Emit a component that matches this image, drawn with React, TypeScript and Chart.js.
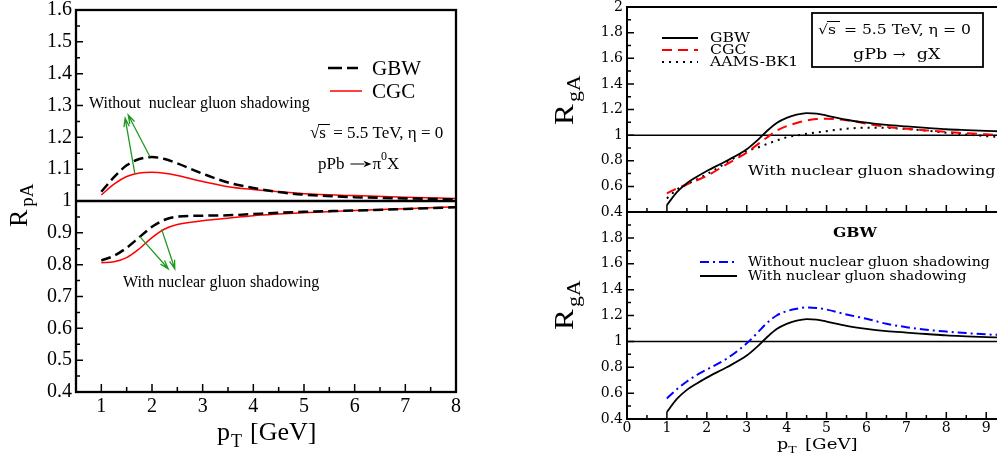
import { useEffect, useRef } from "react";
import { Chart, registerables } from "chart.js";
Chart.register(...registerables);

// ---------------- Left panel: R_pA for pPb -> pi0 X ----------------
const pAx = [1, 1.25, 1.5, 1.75, 2, 2.25, 2.5, 3, 3.5, 4, 4.5, 5, 6, 7, 8];
const pAGBWNoShadow = [1.029, 1.075, 1.112, 1.132, 1.138, 1.132, 1.118, 1.086, 1.058, 1.041, 1.028, 1.020, 1.012, 1.008, 1.005];
const pACGCNoShadow = [1.019, 1.053, 1.077, 1.088, 1.090, 1.087, 1.080, 1.061, 1.045, 1.036, 1.029, 1.023, 1.017, 1.012, 1.008];
const pAGBWShadow = [0.813, 0.828, 0.853, 0.886, 0.919, 0.941, 0.951, 0.954, 0.955, 0.959, 0.963, 0.966, 0.970, 0.975, 0.980];
const pACGCShadow = [0.806, 0.809, 0.822, 0.850, 0.885, 0.912, 0.926, 0.938, 0.946, 0.954, 0.959, 0.963, 0.970, 0.976, 0.982];

const leftXTicks = [1, 2, 3, 4, 5, 6, 7, 8];
const leftYTicks = [0.4, 0.5, 0.6, 0.7, 0.8, 0.9, 1, 1.1, 1.2, 1.3, 1.4, 1.5, 1.6];

// green arrows (tail -> head), data coordinates
const arrowTailX = [1.66, 1.96, 1.76, 2.19];
const arrowTailY = [1.087, 1.139, 0.888, 0.911];
const arrowHeadX = [1.47, 1.53, 2.32, 2.45];
const arrowHeadY = [1.26, 1.27, 0.787, 0.787];

// ---------------- Right panels: R_gA for gPb -> gX ----------------
const gAx = [1, 1.25, 1.5, 1.75, 2, 2.5, 3, 3.25, 3.5, 3.75, 4, 4.25, 4.5, 4.75, 5, 5.5, 6, 6.5, 7, 7.5, 8, 8.5, 9, 9.3];
const gAGBW = [0.454, 0.555, 0.625, 0.675, 0.720, 0.800, 0.890, 0.955, 1.030, 1.095, 1.135, 1.160, 1.172, 1.168, 1.153, 1.120, 1.097, 1.080, 1.068, 1.057, 1.046, 1.039, 1.033, 1.030];
const gACGC = [0.545, 0.585, 0.615, 0.648, 0.682, 0.773, 0.864, 0.922, 0.980, 1.035, 1.070, 1.095, 1.115, 1.125, 1.128, 1.117, 1.090, 1.065, 1.050, 1.037, 1.025, 1.015, 1.006, 1.002];
const gAAAMS = [0.506, 0.575, 0.615, 0.655, 0.695, 0.786, 0.876, 0.900, 0.930, 0.958, 0.983, 0.997, 1.010, 1.021, 1.031, 1.050, 1.058, 1.057, 1.047, 1.035, 1.019, 1.005, 0.992, 0.986];
const gAGBWNoShadow = [0.559, 0.630, 0.690, 0.740, 0.782, 0.867, 0.985, 1.060, 1.140, 1.200, 1.233, 1.252, 1.262, 1.258, 1.246, 1.208, 1.175, 1.136, 1.110, 1.090, 1.076, 1.064, 1.054, 1.050];

const rightXTicks = [0, 1, 2, 3, 4, 5, 6, 7, 8, 9];
const rightTopYTicks = [0.4, 0.6, 0.8, 1, 1.2, 1.4, 1.6, 1.8, 2];
const rightBotYTicks = [0.4, 0.6, 0.8, 1, 1.2, 1.4, 1.6, 1.8];

// ---------------- helpers ----------------
const LF = (s: number, w = "") => `${w}${s}px 'Liberation Serif', 'Times New Roman', serif`;
const RF = (s: number, w = "") => `${w}${s}px 'DejaVu Serif', serif`;
const fmt = (v: number) => String(Number(Number(v).toFixed(2)));
const GREEN = "#1f9a1f";

function series(xs: number[], ys: number[], color: string, width: number, dash: number[] = []) {
  return {
    data: xs.map((x, i) => ({ x, y: ys[i] })),
    borderColor: color,
    borderWidth: width,
    borderDash: dash,
    pointRadius: 0,
    fill: false,
    cubicInterpolationMode: "monotone",
  };
}

function axis(min: number, max: number, ticksArr: number[], font: any, pad: number, size: number, horizontal: boolean, show = true) {
  return {
    type: "linear",
    min,
    max,
    grid: { display: false, drawTicks: false },
    border: { display: false },
    ticks: {
      display: show,
      font,
      color: "#000",
      padding: pad,
      autoSkip: false,
      maxRotation: 0,
      callback: (v: any) => fmt(v),
    },
    afterBuildTicks: (s: any) => {
      s.ticks = ticksArr.map((v) => ({ value: v }));
    },
    afterFit: (s: any) => {
      if (horizontal) s.height = size;
      else s.width = size;
      s.paddingTop = 0;
      s.paddingBottom = 0;
      s.paddingLeft = 0;
      s.paddingRight = 0;
    },
  };
}

function txt(ctx: any, s: string, x: number, y: number, font: string, o: any = {}) {
  ctx.save();
  ctx.font = font;
  ctx.fillStyle = o.color || "#000";
  ctx.textAlign = o.align || "left";
  ctx.textBaseline = o.base || "alphabetic";
  ctx.translate(x, y);
  const sx = o.sx || 1;
  ctx.scale(sx, 1);
  ctx.fillText(s, 0, 0);
  const w = ctx.measureText(s).width * sx;
  ctx.restore();
  return w;
}

function rotTitle(ctx: any, x: number, y: number, main: string, sub: string, mf: string, sf: string, gap: number, dy: number, sx = 1) {
  ctx.save();
  ctx.translate(x, y);
  ctx.rotate(-Math.PI / 2);
  ctx.scale(sx, 1);
  ctx.fillStyle = "#000";
  ctx.textBaseline = "alphabetic";
  ctx.textAlign = "left";
  ctx.font = mf;
  ctx.fillText(main, 0, 0);
  const w = ctx.measureText(main).width;
  ctx.font = sf;
  ctx.fillText(sub, w + gap, dy);
  ctx.restore();
}

function hline(ctx: any, x0: number, x1: number, y: number, color: string, lw: number, dash: number[] = []) {
  ctx.save();
  ctx.strokeStyle = color;
  ctx.lineWidth = lw;
  ctx.setLineDash(dash);
  ctx.beginPath();
  ctx.moveTo(x0, y);
  ctx.lineTo(x1, y);
  ctx.stroke();
  ctx.restore();
}

function textArrow(ctx: any, x0: number, x1: number, y: number, head: number) {
  ctx.save();
  ctx.strokeStyle = "#000";
  ctx.fillStyle = "#000";
  ctx.lineWidth = 1;
  ctx.beginPath();
  ctx.moveTo(x0, y);
  ctx.lineTo(x1 - head + 1, y);
  ctx.stroke();
  ctx.beginPath();
  ctx.moveTo(x1, y);
  ctx.lineTo(x1 - head, y - head * 0.4);
  ctx.lineTo(x1 - head * 0.7, y);
  ctx.lineTo(x1 - head, y + head * 0.4);
  ctx.closePath();
  ctx.fill();
  ctx.restore();
}

function drawTicks(chart: any, xMaj: number, xMin: number, yMaj: number, yMin: number, lw: number) {
  const ctx = chart.ctx;
  const a = chart.chartArea;
  const xs = chart.scales.x;
  const ys = chart.scales.y;
  ctx.save();
  ctx.strokeStyle = "#000";
  ctx.lineWidth = lw;
  ctx.beginPath();
  const xv = xs.ticks.map((t: any) => t.value);
  const xstep = xv[1] - xv[0];
  for (const v of xv) {
    const p = xs.getPixelForValue(v);
    if (p > a.left + 1 && p < a.right - 1) {
      ctx.moveTo(p, a.bottom);
      ctx.lineTo(p, a.bottom - xMaj);
    }
  }
  for (let v = xv[0] - xstep / 2; v < xs.max; v += xstep) {
    if (v <= xs.min + 1e-6) continue;
    const p = xs.getPixelForValue(v);
    ctx.moveTo(p, a.bottom);
    ctx.lineTo(p, a.bottom - xMin);
  }
  const yv = ys.ticks.map((t: any) => t.value);
  const ystep = yv[1] - yv[0];
  for (const v of yv) {
    const p = ys.getPixelForValue(v);
    if (p > a.top + 1 && p < a.bottom - 1) {
      ctx.moveTo(a.left, p);
      ctx.lineTo(a.left + yMaj, p);
    }
  }
  for (let v = yv[0] + ystep / 2; v < ys.max; v += ystep) {
    const p = ys.getPixelForValue(v);
    ctx.moveTo(a.left, p);
    ctx.lineTo(a.left + yMin, p);
  }
  ctx.stroke();
  ctx.restore();
}

function drawArrow(ctx: any, x0: number, y0: number, x1: number, y1: number) {
  const ang = Math.atan2(y1 - y0, x1 - x0);
  const hl = 9;
  const ha = 0.3;
  ctx.save();
  ctx.strokeStyle = GREEN;
  ctx.lineWidth = 1.3;
  ctx.beginPath();
  ctx.moveTo(x0, y0);
  ctx.lineTo(x1, y1);
  ctx.moveTo(x1 - hl * Math.cos(ang - ha), y1 - hl * Math.sin(ang - ha));
  ctx.lineTo(x1, y1);
  ctx.lineTo(x1 - hl * Math.cos(ang + ha), y1 - hl * Math.sin(ang + ha));
  ctx.stroke();
  ctx.restore();
}

function refLine(chart: any, lw: number) {
  const a = chart.chartArea;
  const p = chart.scales.y.getPixelForValue(1);
  hline(chart.ctx, a.left, a.right, p, "#000", lw);
}

// ---------------- charts ----------------
function makeLeft(canvas: HTMLCanvasElement) {
  const tickFont = { family: "'Liberation Serif', 'Times New Roman', serif", size: 20, lineHeight: 1 };
  return new Chart(canvas, {
    type: "line",
    data: {
      datasets: [
        series(pAx, pAGBWNoShadow, "#000", 2.5, [10, 5]),
        series(pAx, pACGCNoShadow, "#ff0000", 1.5),
        series(pAx, pAGBWShadow, "#000", 2.5, [10, 5]),
        series(pAx, pACGCShadow, "#ff0000", 1.5),
      ] as any,
    },
    options: {
      animation: false,
      responsive: false,
      layout: { padding: { left: 0, top: 10, right: 14, bottom: 0 } },
      plugins: { legend: { display: false }, tooltip: { enabled: false } },
      scales: {
        x: axis(0.5, 8, leftXTicks, tickFont, 5, 65, true),
        y: axis(0.4, 1.6, leftYTicks, tickFont, 4, 76, false),
      } as any,
    },
    plugins: [
      {
        id: "leftDeco",
        beforeDatasetsDraw(chart: any) {
          refLine(chart, 2.5);
        },
        afterDatasetsDraw(chart: any) {
          const xs = chart.scales.x;
          const ys = chart.scales.y;
          for (let i = 0; i < arrowTailX.length; i++) {
            drawArrow(
              chart.ctx,
              xs.getPixelForValue(arrowTailX[i]),
              ys.getPixelForValue(arrowTailY[i]),
              xs.getPixelForValue(arrowHeadX[i]),
              ys.getPixelForValue(arrowHeadY[i])
            );
          }
        },
        afterDraw(chart: any) {
          const ctx = chart.ctx;
          const a = chart.chartArea;
          ctx.save();
          ctx.strokeStyle = "#000";
          ctx.lineWidth = 2.3;
          ctx.strokeRect(a.left, a.top, a.right - a.left, a.bottom - a.top);
          ctx.restore();
          drawTicks(chart, 8, 5, 7, 4, 1.5);
          // legend
          hline(ctx, 328, 358, 68, "#000", 2.5, [14, 5]);
          txt(ctx, "GBW", 372, 69, LF(21), { base: "middle" });
          hline(ctx, 330, 362, 91, "#ff0000", 1.5);
          txt(ctx, "CGC", 372, 92, LF(21), { base: "middle" });
          // annotations
          txt(ctx, "Without  nuclear gluon shadowing", 89, 104, LF(16), { base: "middle" });
          txt(ctx, "With nuclear gluon shadowing", 123, 283, LF(16), { base: "middle" });
          // sqrt(s) label
          let x = 310;
          const by = 138;
          const w1 = txt(ctx, "\u221A", x, by, LF(17));
          const ws = txt(ctx, "s", x + w1, by, LF(17));
          hline(ctx, x + w1 - 1, x + w1 + ws + 4, by - 13.5, "#000", 1);
          txt(ctx, " = 5.5 TeV, \u03B7 = 0", x + w1 + ws + 3, by, LF(17));
          // process label
          x = 318;
          const py = 169;
          x += txt(ctx, "pPb", x, py, LF(17));
          textArrow(ctx, x + 6, x + 27, py - 5, 8);
          x += 28;
          x += txt(ctx, "\u03C0", x, py, LF(17));
          x += txt(ctx, "0", x, py - 9, LF(12));
          txt(ctx, "X", x, py, LF(17));
          // axis titles
          rotTitle(ctx, 27, 227, "R", "pA", LF(26), LF(19), 3, 6);
          const tx = 217;
          const tb = 440;
          const wp = txt(ctx, "p", tx, tb, LF(26));
          txt(ctx, "T", tx + wp + 1, tb + 7, LF(18));
          txt(ctx, "[GeV]", 250, tb, LF(26));
        },
      },
    ],
  } as any);
}

const RS = 1.25;

function makeRightTop(canvas: HTMLCanvasElement) {
  const tickFont = { family: "'DejaVu Serif', serif", size: 14, lineHeight: 1 };
  return new Chart(canvas, {
    type: "line",
    data: {
      datasets: [
        series(gAx, gAGBW, "#000", 1.8),
        series(gAx, gACGC, "#ff0000", 2, [10, 6]),
        series(gAx, gAAAMS, "#000", 2, [2, 5]),
      ] as any,
    },
    options: {
      animation: false,
      responsive: false,
      layout: { padding: { left: 0, top: 7, right: 0, bottom: 0 } },
      plugins: { legend: { display: false }, tooltip: { enabled: false } },
      scales: {
        x: axis(0, 9.27, rightXTicks, tickFont, 2, 18, true, false),
        y: axis(0.4, 2, rightTopYTicks, tickFont, 4, 107, false),
      } as any,
    },
    plugins: [
      {
        id: "rtDeco",
        beforeDatasetsDraw(chart: any) {
          refLine(chart, 1.5);
        },
        afterDraw(chart: any) {
          const ctx = chart.ctx;
          const a = chart.chartArea;
          ctx.save();
          ctx.strokeStyle = "#000";
          ctx.lineWidth = 2;
          ctx.beginPath();
          ctx.moveTo(a.right + 2, a.top);
          ctx.lineTo(a.left, a.top);
          ctx.lineTo(a.left, a.bottom);
          ctx.lineTo(a.right + 2, a.bottom);
          ctx.stroke();
          ctx.restore();
          drawTicks(chart, 7, 4, 7, 4, 1.5);
          // legend
          hline(ctx, 142, 178, 38, "#000", 1.8);
          txt(ctx, "GBW", 190, 39, RF(12.5), { base: "middle", sx: RS });
          hline(ctx, 142, 178, 50, "#ff0000", 2, [10, 6]);
          txt(ctx, "CGC", 190, 51, RF(12.5), { base: "middle", sx: RS });
          hline(ctx, 142, 178, 62, "#000", 2, [2, 5]);
          txt(ctx, "AAMS-BK1", 190, 63, RF(12.5), { base: "middle", sx: RS });
          // box
          ctx.save();
          ctx.strokeStyle = "#000";
          ctx.lineWidth = 1.8;
          ctx.strokeRect(292, 13, 171, 54);
          ctx.restore();
          let x = 298;
          const by = 34;
          const w1 = txt(ctx, "\u221A", x, by, RF(13), { sx: 1.2 });
          const ws = txt(ctx, "s", x + w1, by, RF(13), { sx: 1.2 });
          hline(ctx, x + w1 - 1, x + w1 + ws + 4, by - 12.5, "#000", 1);
          txt(ctx, " = 5.5 TeV, \u03B7 = 0", x + w1 + ws + 3, by, RF(13), { sx: 1.2 });
          x = 333;
          x += txt(ctx, "gPb ", x, 59, RF(14), { sx: RS });
          x += txt(ctx, "\u2192", x, 59, RF(14), { sx: 1.1 });
          txt(ctx, "  gX", x, 59, RF(14), { sx: RS });
          txt(ctx, "With nuclear gluon shadowing", 228, 172, RF(12.8), { base: "middle", sx: RS });
          rotTitle(ctx, 53, 125, "R", "gA", LF(27), LF(19), 2, 7, 1.15);
        },
      },
    ],
  } as any);
}

function makeRightBottom(canvas: HTMLCanvasElement) {
  const tickFont = { family: "'DejaVu Serif', serif", size: 14, lineHeight: 1 };
  return new Chart(canvas, {
    type: "line",
    data: {
      datasets: [
        series(gAx, gAGBWNoShadow, "#0000ff", 2, [9, 4, 2, 4]),
        series(gAx, gAGBW, "#000", 1.8),
      ] as any,
    },
    options: {
      animation: false,
      responsive: false,
      layout: { padding: { left: 0, top: 12, right: 0, bottom: 0 } },
      plugins: { legend: { display: false }, tooltip: { enabled: false } },
      scales: {
        x: axis(0, 9.27, rightXTicks, tickFont, 2, 38, true),
        y: axis(0.4, 2, rightBotYTicks, tickFont, 4, 107, false),
      } as any,
    },
    plugins: [
      {
        id: "rbDeco",
        beforeDatasetsDraw(chart: any) {
          refLine(chart, 1.5);
        },
        afterDraw(chart: any) {
          const ctx = chart.ctx;
          const a = chart.chartArea;
          ctx.save();
          ctx.strokeStyle = "#000";
          ctx.lineWidth = 2;
          ctx.beginPath();
          ctx.moveTo(a.right + 2, a.top);
          ctx.lineTo(a.left, a.top);
          ctx.lineTo(a.left, a.bottom);
          ctx.lineTo(a.right + 2, a.bottom);
          ctx.stroke();
          ctx.restore();
          drawTicks(chart, 7, 4, 7, 4, 1.5);
          txt(ctx, "GBW", 313, 34, RF(13, "bold "), { base: "middle", sx: 1.2 });
          hline(ctx, 180, 217, 62, "#0000ff", 2, [9, 4, 2, 4]);
          txt(ctx, "Without nuclear gluon shadowing", 228, 63, RF(12.5), { base: "middle", sx: 1.13 });
          hline(ctx, 180, 217, 76, "#000", 1.8);
          txt(ctx, "With nuclear gluon shadowing", 228, 77, RF(12.5), { base: "middle", sx: 1.13 });
          rotTitle(ctx, 53, 130, "R", "gA", LF(27), LF(19), 2, 7, 1.15);
          const wp = txt(ctx, "p", 257, 249, RF(14), { sx: RS });
          txt(ctx, "T", 257 + wp, 253, RF(10), { sx: RS });
          txt(ctx, "[GeV]", 285, 249, RF(14), { sx: 1.3 });
        },
      },
    ],
  } as any);
}

export default function App() {
  const leftRef = useRef<HTMLCanvasElement>(null);
  const rtRef = useRef<HTMLCanvasElement>(null);
  const rbRef = useRef<HTMLCanvasElement>(null);
  useEffect(() => {
    const charts = [makeLeft(leftRef.current!), makeRightTop(rtRef.current!), makeRightBottom(rbRef.current!)];
    return () => charts.forEach((c) => c.destroy());
  }, []);
  return (
    <div style={{ position: "absolute", left: 0, top: 0, width: 997, height: 457, background: "#fff", overflow: "hidden" }}>
      <canvas ref={leftRef} width={470} height={457} style={{ position: "absolute", left: 0, top: 0 }} />
      <canvas ref={rtRef} width={477} height={230} style={{ position: "absolute", left: 520, top: 0 }} />
      <canvas ref={rbRef} width={477} height={257} style={{ position: "absolute", left: 520, top: 200 }} />
    </div>
  );
}
